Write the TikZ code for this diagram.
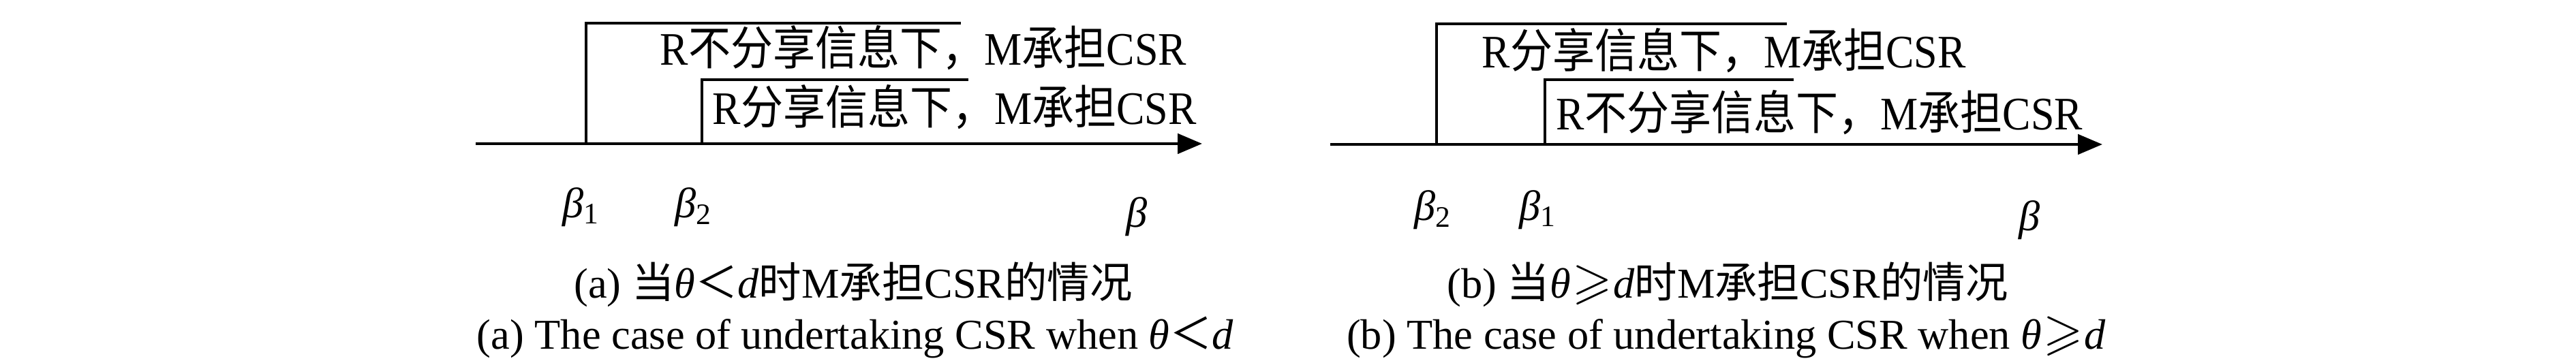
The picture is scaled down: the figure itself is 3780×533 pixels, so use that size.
\documentclass[tikz,border=0pt]{standalone}
\usepackage{amssymb}
\usepackage{graphicx}
\usepackage{fontspec}
\setmainfont{Liberation Serif}
\newfontfamily\cjk{Noto Sans CJK SC}
\newcommand{\mygeq}{\makebox[1em]{\scalebox{1.2}{$\geqslant$}}}
\usetikzlibrary{arrows.meta}
\begin{document}
\begin{tikzpicture}[x=0.25pt,y=-0.25pt,
  segline/.style={line width=1pt,line cap=rect},
  axisline/.style={line width=1.15pt,-{Triangle[length=9pt,width=7.3pt]}},
  lbl/.style={inner sep=0pt,anchor=base west,xscale=0.907,font=\fontsize{17.1}{20}\selectfont},
  symtxt/.style={inner sep=0pt,anchor=base,font=\fontsize{15.6}{18}\selectfont},
  captxt/.style={inner sep=0pt,anchor=base,font=\fontsize{15.6}{18}\selectfont}]
\useasboundingbox (0,0) rectangle (3780,533);
% ---------- panel (a) ----------
\coordinate (a0) at (698,211);
\coordinate (a1) at (1764,211);
\coordinate (av1) at (860,211);
\coordinate (at1) at (1408,34);
\coordinate (av2) at (1030,211);
\coordinate (at2) at (1419,117);
\draw[axisline] (a0) -- (a1);
\draw[segline] (av1) |- (at1);
\draw[segline] (av2) |- (at2);
\node[lbl] (aL1) at (968,96) {R{\cjk 不分享信息下，}M{\cjk 承担}CSR};
\node[lbl] (aL2) at (1045,183) {R{\cjk 分享信息下，}M{\cjk 承担}CSR};
\node[symtxt] (ab1) at (853,320) {\textit{β}\textsubscript{1}};
\node[symtxt] (ab2) at (1018,320) {\textit{β}\textsubscript{2}};
\node[symtxt] (ab) at (1668,334) {\textit{β}};
\node[captxt] (aC1) at (1252,438) {(a) {\cjk 当}\textit{θ}{\cjk ＜}\textit{d}{\cjk 时}M{\cjk 承担}CSR{\cjk 的情况}};
\node[captxt] (aC2) at (1255,513) {(a) The case of undertaking CSR when \textit{θ}{\cjk ＜}\textit{d}};
% ---------- panel (b) ----------
\coordinate (b0) at (1952,212);
\coordinate (b1) at (3085,212);
\coordinate (bv1) at (2108,212);
\coordinate (bt1) at (2620,35);
\coordinate (bv2) at (2267,212);
\coordinate (bt2) at (2630,117);
\draw[axisline] (b0) -- (b1);
\draw[segline] (bv1) |- (bt1);
\draw[segline] (bv2) |- (bt2);
\node[lbl] (bL1) at (2174,100) {R{\cjk 分享信息下，}M{\cjk 承担}CSR};
\node[lbl] (bL2) at (2283,191) {R{\cjk 不分享信息下，}M{\cjk 承担}CSR};
\node[symtxt] (bb2) at (2103,324) {\textit{β}\textsubscript{2}};
\node[symtxt] (bb1) at (2257,324) {\textit{β}\textsubscript{1}};
\node[symtxt] (bb) at (2978,339) {\textit{β}};
\node[captxt] (bC1) at (2535,438) {(b) {\cjk 当}\textit{θ}\mygeq\textit{d}{\cjk 时}M{\cjk 承担}CSR{\cjk 的情况}};
\node[captxt] (bC2) at (2533,513) {(b) The case of undertaking CSR when \textit{θ}\mygeq\textit{d}};
\end{tikzpicture}
\end{document}
